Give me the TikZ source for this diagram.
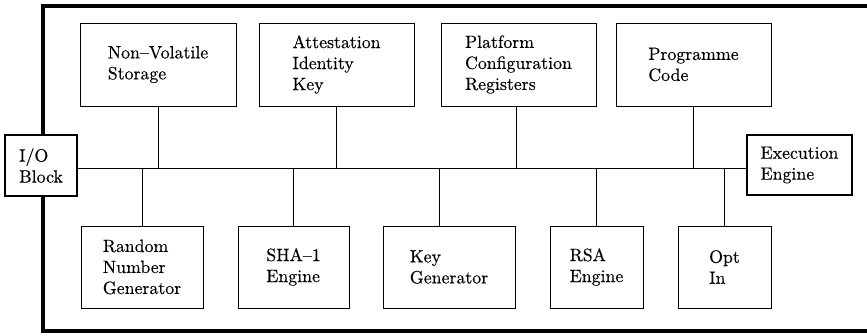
\documentclass[tikz,border=0pt]{standalone}
\usepackage{fontspec}
\newfontfamily\heavyrm{lmroman10-regular.otf}[BoldFont=lmroman10-regular.otf,BoldFeatures={FakeBold=0.3},Ligatures=TeX]
\begin{document}
\begin{tikzpicture}[x=1pt,y=-1pt,
  blk/.style={draw,line width=0.8pt,fill=white,align=left,inner sep=0pt,
    font=\heavyrm\bfseries\fontsize{17.8}{21}\selectfont},
  port/.style={blk,line width=1.7pt},
  conn/.style={line width=0.8pt},
  frame/.style={line width=3.8pt},
  busline/.style={line width=1.9pt}]
\useasboundingbox (0,0) rectangle (867,336);
% outer frame (open to the right)
\draw[frame] (867,6) -- (43,6) -- (43,331) -- (867,331);
% top row
\node[blk,minimum width=156pt,minimum height=83pt] (nvs) at (158,64.5) {Non--Volatile\\Storage};
\node[blk,minimum width=155pt,minimum height=83pt] (aik) at (336.5,64.5) {Attestation\\Identity\\Key};
\node[blk,minimum width=155pt,minimum height=83pt] (pcr) at (518.5,64.5) {Platform\\Configuration\\Registers};
\node[blk,minimum width=155pt,minimum height=83pt] (pc) at (693.5,64.5) {Programme\\Code};
% bottom row
\node[blk,minimum width=122pt,minimum height=82pt] (rng) at (142,267) {Random\\Number\\Generator};
\node[blk,minimum width=111pt,minimum height=82pt] (sha) at (293.5,267) {SHA--1\\Engine};
\node[blk,minimum width=132pt,minimum height=82pt] (kg) at (449,267) {Key\\Generator};
\node[blk,minimum width=93pt,minimum height=82pt] (rsa) at (596.5,267) {RSA\\Engine};
\node[blk,minimum width=93pt,minimum height=82pt] (opt) at (724.5,267) {Opt\\In};
% ports
\node[port,minimum width=72pt,minimum height=61pt] (io) at (41,165.5) {I/O\\Block};
\node[port,minimum width=105pt,minimum height=60pt] (ex) at (799.5,165) {Execution\\Engine};
% bus
\coordinate (bus) at (400,168.5);
\draw[busline] (io.east |- bus) -- (ex.west |- bus);
% connectors
\draw[conn] (nvs.south) -- (nvs.south |- bus);
\draw[conn] (aik.south) -- (aik.south |- bus);
\draw[conn] ([xshift=-2.5pt]pcr.south) -- ([xshift=-2.5pt]pcr.south |- bus);
\draw[conn] (pc.south) -- (pc.south |- bus);
\draw[conn] (rng.north) -- (rng.north |- bus);
\draw[conn] (sha.north) -- (sha.north |- bus);
\draw[conn] ([xshift=-10pt]kg.north) -- ([xshift=-10pt]kg.north |- bus);
\draw[conn] (rsa.north) -- (rsa.north |- bus);
\draw[conn] (opt.north) -- (opt.north |- bus);
\end{tikzpicture}
\end{document}
